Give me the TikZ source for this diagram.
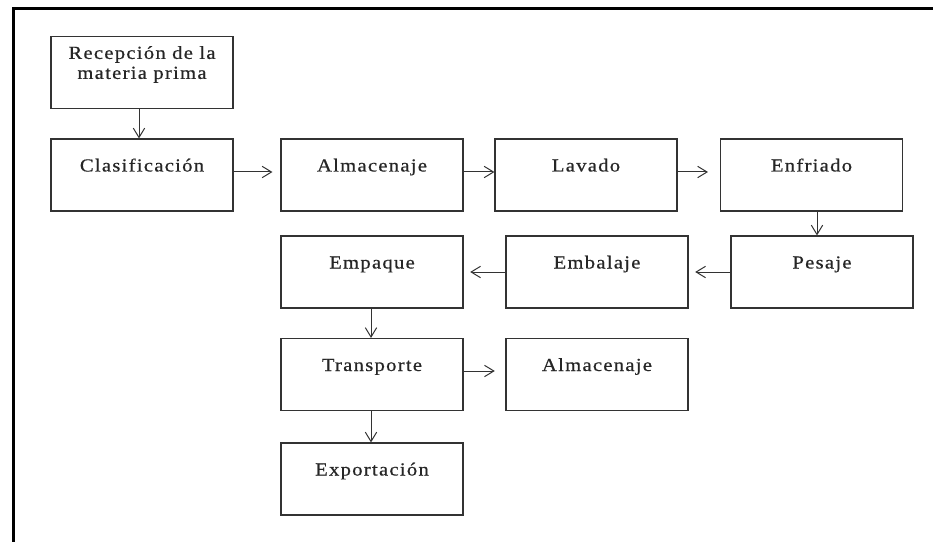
\documentclass[tikz,border=0pt]{standalone}
\usepackage{fontspec}
\setmainfont{Liberation Serif}[LetterSpace=7, FakeStretch=1.12, FakeBold=0.6]
\usetikzlibrary{arrows.meta}
\begin{document}
\begin{tikzpicture}[x=0.75pt,y=-0.75pt,
  boxbase/.style={draw=black!80, line width=0.8pt,
    minimum width=136.5pt, minimum height=54pt, inner sep=0pt,
    text=black!85, font=\fontsize{13.8}{15}\selectfont, align=center},
  box/.style={boxbase, text height=9pt, text depth=14.25pt},
  flow/.style={draw=black!80, line width=0.75pt,
    -{Straight Barb[length=7pt,width=8.5pt]}},
  frame/.style={line width=2.6pt, line join=miter},
]
\useasboundingbox (0,0) rectangle (933,542);
\fill[white] (0,0) rectangle (933,542);
\draw[frame] (13.5,542) -- (13.5,8.75) -- (933,8.75);

% process steps
\node[boxbase] (rec) at (142,72.5)
  {Recepción de la\\materia prima\rule[-15pt]{0pt}{15pt}};
\node[box] (cla)  at (142,175)   {Clasificación};
\node[box] (alm1) at (372,175)   {Almacenaje};
\node[box] (lav)  at (586,175)   {Lavado};
\node[box] (enf)  at (811.5,175) {Enfriado};
\node[box] (pes)  at (822,272)   {Pesaje};
\node[box] (emb)  at (597,272)   {Embalaje};
\node[box] (emp)  at (372,272)   {Empaque};
\node[box] (tra)  at (372,374.5) {Transporte};
\node[box] (alm2) at (597,374.5) {Almacenaje};
\node[box] (exp)  at (372,479)   {Exportación};

% flow between steps
\draw[flow] ([shift={(-3,0)}]rec.south) -- ([shift={(-3,0)}]cla.north);
\draw[flow, shorten >=6pt] ([shift={(0,-3)}]cla.east) -- ([shift={(0,-3)}]alm1.west);
\draw[flow] ([shift={(0,-3)}]alm1.east) -- ([shift={(0,-3)}]lav.west);
\draw[flow, shorten >=9pt] ([shift={(0,-3)}]lav.east) -- ([shift={(0,-3)}]enf.west);
\draw[flow] ([shift={(5.5,0)}]enf.south) -- ([shift={(5.5,0)}]enf.south |- pes.north);
\draw[flow, shorten >=5pt] (pes.west) -- (emb.east);
\draw[flow, shorten >=5pt] (emb.west) -- (emp.east);
\draw[flow] ([shift={(-1,0)}]emp.south) -- ([shift={(-1,0)}]tra.north);
\draw[flow, shorten >=8pt] ([shift={(0,-3.5)}]tra.east) -- ([shift={(0,-3.5)}]alm2.west);
\draw[flow] ([shift={(-1,0)}]tra.south) -- ([shift={(-1,0)}]exp.north);
\end{tikzpicture}
\end{document}
